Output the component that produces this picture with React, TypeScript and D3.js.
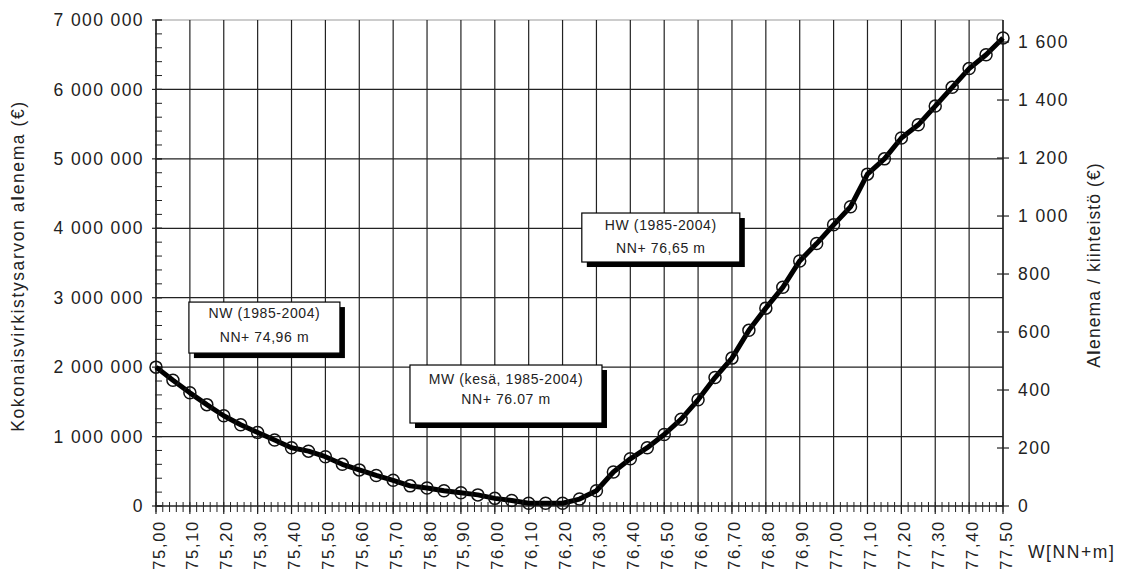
import React from 'react';
import * as d3 from 'd3';

// water level W [NN+m]
const levels = [
  75.0, 75.05, 75.1, 75.15, 75.2, 75.25, 75.3, 75.35, 75.4, 75.45,
  75.5, 75.55, 75.6, 75.65, 75.7, 75.75, 75.8, 75.85, 75.9, 75.95,
  76.0, 76.05, 76.1, 76.15, 76.2, 76.25, 76.3, 76.35, 76.4, 76.45,
  76.5, 76.55, 76.6, 76.65, 76.7, 76.75, 76.8, 76.85, 76.9, 76.95,
  77.0, 77.05, 77.1, 77.15, 77.2, 77.25, 77.3, 77.35, 77.4, 77.45, 77.5,
];

// total loss of recreational value (€)
const loss = [
  2000000, 1810000, 1630000, 1460000, 1300000, 1170000, 1060000, 950000, 840000, 790000,
  710000, 600000, 520000, 440000, 370000, 290000, 260000, 220000, 190000, 160000,
  110000, 80000, 40000, 40000, 40000, 100000, 220000, 490000, 680000, 840000,
  1030000, 1250000, 1530000, 1850000, 2130000, 2530000, 2850000, 3150000, 3530000, 3780000,
  4050000, 4310000, 4780000, 5000000, 5300000, 5490000, 5760000, 6030000, 6300000, 6500000, 6740000,
];

const xTicks = [
  75.0, 75.1, 75.2, 75.3, 75.4, 75.5, 75.6, 75.7, 75.8, 75.9,
  76.0, 76.1, 76.2, 76.3, 76.4, 76.5, 76.6, 76.7, 76.8, 76.9,
  77.0, 77.1, 77.2, 77.3, 77.4, 77.5,
];
const leftTicks = [0, 1000000, 2000000, 3000000, 4000000, 5000000, 6000000, 7000000];
const rightTicks = [0, 200, 400, 600, 800, 1000, 1200, 1400, 1600];

const annotations = [
  { x: 75.32, y: 2570000, w: 151, h: 51, lines: ['NW (1985-2004)', 'NN+ 74,96 m'], dy: [16, 40] },
  { x: 76.033, y: 1613000, w: 192, h: 58, lines: ['MW (kesä, 1985-2004)', 'NN+ 76.07 m'], dy: [19, 39] },
  { x: 76.49, y: 3867000, w: 158, h: 49, lines: ['HW (1985-2004)', 'NN+ 76,65 m'], dy: [17, 40] },
];

const W = 1122, H = 573;
const left = 156, right = 1003, top = 20, bottom = 506;
const font = '"Liberation Sans", Arial, sans-serif';
const ink = '#222';

const App = () => {
  const x = d3.scaleLinear().domain([75, 77.5]).range([left, right]);
  const y = d3.scaleLinear().domain([0, 7000000]).range([bottom, top]);
  const y2 = d3.scaleLinear().domain([0, 1676]).range([bottom, top]);

  const fmtBig = (v) => d3.format(',')(v).replace(/,/g, ' ');
  const fmtX = (v) => d3.format('.2f')(v).replace('.', ',');

  const xMinor = d3.range(0, 126).map((i) => 75 + i * 0.02);
  const yMinor = d3.range(0, 36).map((i) => i * 200000);

  const line = d3.line().x((d, i) => x(levels[i])).y((d) => y(d))(loss);

  return (
    <svg width={W} height={H} style={{ position: 'absolute', left: 0, top: 0, background: '#fff' }} fontFamily={font}>
      {/* grid */}
      <line x1={left} x2={right} y1={top} y2={top} stroke="#999" strokeWidth={1.2} />
      {xTicks.map((t) => (
        <line key={'gx' + t} x1={x(t)} x2={x(t)} y1={top} y2={bottom} stroke={ink} strokeWidth={1.2} />
      ))}
      {leftTicks.slice(1, -1).map((t) => (
        <line key={'gy' + t} x1={left} x2={right} y1={y(t)} y2={y(t)} stroke={ink} strokeWidth={1.2} />
      ))}

      {/* axes */}
      <line x1={left} x2={left} y1={top} y2={bottom} stroke={ink} strokeWidth={1.3} />
      <line x1={right} x2={right} y1={top} y2={bottom} stroke={ink} strokeWidth={1.3} />
      <line x1={left} x2={right} y1={bottom} y2={bottom} stroke={ink} strokeWidth={1.3} />

      {xMinor.map((t, i) => (
        <line key={'xm' + i} x1={x(t)} x2={x(t)} y1={bottom - 4} y2={bottom + 6} stroke={ink} strokeWidth={1} />
      ))}
      {xTicks.map((t) => (
        <line key={'xt' + t} x1={x(t)} x2={x(t)} y1={bottom} y2={bottom + 8} stroke={ink} strokeWidth={1.2} />
      ))}
      {yMinor.map((t, i) => (
        <line key={'ym' + i} x1={left - 1} x2={left + 6} y1={y(t)} y2={y(t)} stroke={ink} strokeWidth={1} />
      ))}
      {leftTicks.map((t) => (
        <line key={'yt' + t} x1={left - 4} x2={left + 6} y1={y(t)} y2={y(t)} stroke={ink} strokeWidth={1.2} />
      ))}
      {rightTicks.map((t) => (
        <line key={'rt' + t} x1={right - 6} x2={right + 6} y1={y2(t)} y2={y2(t)} stroke={ink} strokeWidth={1.2} />
      ))}

      {/* tick labels */}
      {leftTicks.map((t) => (
        <text key={'yl' + t} x={left - 12} y={y(t)} dy="0.35em" textAnchor="end" fontSize={17.5} letterSpacing={1.4} fill={ink}>
          {fmtBig(t)}
        </text>
      ))}
      {rightTicks.map((t) => (
        <text key={'rl' + t} x={right + 15} y={y2(t)} dy="0.35em" fontSize={17.5} letterSpacing={1.4} fill={ink}>
          {fmtBig(t)}
        </text>
      ))}
      {xTicks.map((t) => (
        <text
          key={'xl' + t}
          transform={`translate(${x(t) + 8.5},${bottom + 14}) rotate(-90)`}
          textAnchor="end"
          fontSize={16.5}
          letterSpacing={1.7}
          fill={ink}
        >
          {fmtX(t)}
        </text>
      ))}

      {/* axis titles */}
      <text transform={`translate(24,266) rotate(-90)`} textAnchor="middle" fontSize={17.5} letterSpacing={1.6} fill={ink}>
        Kokonaisvirkistysarvon a<tspan fontWeight="bold">l</tspan>enema (€)
      </text>
      <text transform={`translate(1100,265) rotate(-90)`} textAnchor="middle" fontSize={17.5} letterSpacing={1.1} fill={ink}>
        A<tspan fontWeight="bold">l</tspan>enema / kiinteistö (€)
      </text>
      <text x={1028} y={558} fontSize={17.5} letterSpacing={1.6} fill={ink}>W[NN+m]</text>

      {/* annotations */}
      {annotations.map((a) => {
        const bx = x(a.x) - a.w / 2;
        const by = y(a.y) - a.h / 2;
        return (
          <g key={a.lines[0]}>
            <rect x={bx + 5} y={by + 5} width={a.w} height={a.h} fill="#000" />
            <rect x={bx} y={by} width={a.w} height={a.h} fill="#fff" stroke="#000" strokeWidth={1.2} />
            {a.lines.map((l, i) => (
              <text key={l} x={x(a.x)} y={by + a.dy[i]} textAnchor="middle" fontSize={14} letterSpacing={0.6} fill={ink}>
                {l}
              </text>
            ))}
          </g>
        );
      })}

      {/* series */}
      <path d={line} fill="none" stroke="#000" strokeWidth={5} strokeLinejoin="round" />
      {loss.map((v, i) => (
        <circle key={'p' + i} cx={x(levels[i])} cy={y(v)} r={6} fill="none" stroke="#111" strokeWidth={1.5} />
      ))}
    </svg>
  );
};

export default App;
